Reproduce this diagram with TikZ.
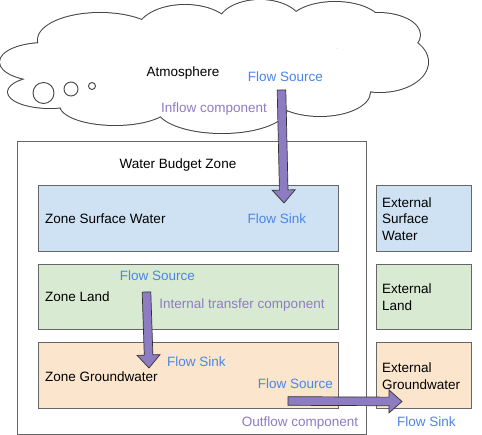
\documentclass[tikz,border=0pt]{standalone}
\usepackage{fontspec}
\setmainfont{Liberation Sans}
\usetikzlibrary{calc}
\definecolor{blueT}{HTML}{4A86E8}
\definecolor{purp}{HTML}{8E7CC3}
\definecolor{swF}{HTML}{CFE2F3}
\definecolor{landF}{HTML}{D9EAD3}
\definecolor{gwF}{HTML}{FCE5CD}
\definecolor{edgeC}{HTML}{666666}
\definecolor{cloudC}{HTML}{444444}
\definecolor{arrC}{HTML}{333333}
\newcommand\blockarr[2]{%
  \coordinate (bac) at ($(#2)!13pt!(#1)$);
  \draw[arrbody] ($(#1)!4.3pt!90:(#2)$) -- ($(bac)!4.3pt!90:(#2)$) -- ($(bac)!11.5pt!90:(#2)$) -- (#2)
    -- ($(bac)!11.5pt!-90:(#2)$) -- ($(bac)!4.3pt!-90:(#2)$) -- ($(#1)!4.3pt!-90:(#2)$) -- cycle;}
\begin{document}
\begin{tikzpicture}[x=1pt,y=-1pt,
  box/.style={draw=edgeC, line width=0.9pt, inner sep=0pt},
  arrbody/.style={fill=purp, draw=arrC, line width=0.7pt, line join=miter},
  lbl/.style={inner sep=0pt, font=\fontsize{13.5}{16.3}\selectfont},
  blk/.style={lbl, text=black},
  src/.style={lbl, text=blueT},
  cmp/.style={lbl, text=purp}]
\useasboundingbox (0,0) rectangle (482,435);
\fill[white] (0,0) rectangle (482,435);
% cloud
\foreach \x/\y/\rx/\ry in {45/62/45/19, 50/92/42/16, 115/105/55/20, 222/108/65/25, 320/92/50/24,
  380/62/48/30, 378/35/42/22, 335/25/47/23, 260/25/42/25, 185/32/48/27, 100/40/62/27}
  \draw[cloudC, line width=2pt] (\x,\y) ellipse [x radius=\rx, y radius=\ry];
\foreach \x/\y/\rx/\ry in {45/62/45/19, 50/92/42/16, 115/105/55/20, 222/108/65/25, 320/92/50/24,
  380/62/48/30, 378/35/42/22, 335/25/47/23, 260/25/42/25, 185/32/48/27, 100/40/62/27, 215/68/140/40, 100/85/50/25}
  \fill[white] (\x,\y) ellipse [x radius=\rx, y radius=\ry];
\draw[cloudC, line width=0.9pt] (43.5,93) circle [radius=10.5];
\draw[cloudC, line width=0.9pt] (71,89) circle [radius=7];
\draw[cloudC, line width=0.9pt] (92,86) circle [radius=3.5];
% boxes
\node[box, minimum width=349, minimum height=293] (wbz) at (191.5,287.5) {};
\node[box, fill=swF, minimum width=300, minimum height=65.3] (zsw) at (188,218.35) {};
\node[box, fill=landF, minimum width=300, minimum height=64.3] (zl) at (188,296.85) {};
\node[box, fill=gwF, minimum width=300, minimum height=66] (zgw) at (188,375) {};
\node[box, fill=swF, minimum width=95, minimum height=65.3] (esw) at (423.5,218.35) {};
\node[box, fill=landF, minimum width=95, minimum height=64.3] (el) at (423.5,296.85) {};
\node[box, fill=gwF, minimum width=95, minimum height=66] (egw) at (423.5,375) {};
% arrows
\coordinate (a1s) at (281.5,90);
\coordinate (a1e) at (284,203);
\coordinate (a2s) at (146.5,292);
\coordinate (a2e) at (149,368);
\coordinate (a3s) at (288,401);
\coordinate (a3e) at (402,401.5);
\blockarr{a1s}{a1e}
\blockarr{a2s}{a2e}
\blockarr{a3s}{a3e}
% texts
\node[blk, anchor=base] (tatm) at (183,76.8) {Atmosphere};
\node[src, anchor=base] (tfs1) at (285.5,81.8) {Flow Source};
\node[cmp, anchor=base] (tin) at (214,112.8) {Inflow component};
\node[blk, anchor=base] (twbz) at (178,168.8) {Water Budget Zone};
\node[blk, anchor=base west] (tzsw) at (45,223.8) {Zone Surface Water};
\node[src, anchor=base] (tfk1) at (277,223.8) {Flow Sink};
\node[src, anchor=base] (tfs2) at (157.5,280.5) {Flow Source};
\node[blk, anchor=base west] (tzl) at (45,301.8) {Zone Land};
\node[cmp, anchor=base] (tint) at (242,308.8) {Internal transfer component};
\node[blk, anchor=base west] (tzgw) at (45,381.8) {Zone Groundwater};
\node[src, anchor=base] (tfk2) at (196.5,366.8) {Flow Sink};
\node[src, anchor=base] (tfs3) at (295.5,388.8) {Flow Source};
\node[cmp, anchor=base] (tout) at (300,426.8) {Outflow component};
\node[blk, anchor=base west, align=left] (tesw) at (382,240.1) {External\\Surface\\Water};
\node[blk, anchor=base west, align=left] (tel) at (382,310.1) {External\\Land};
\node[blk, anchor=base west, align=left] (tegw) at (382,389.1) {External\\Groundwater};
\node[src, anchor=base] (tfk3) at (426.5,426.8) {Flow Sink};
\end{tikzpicture}
\end{document}
